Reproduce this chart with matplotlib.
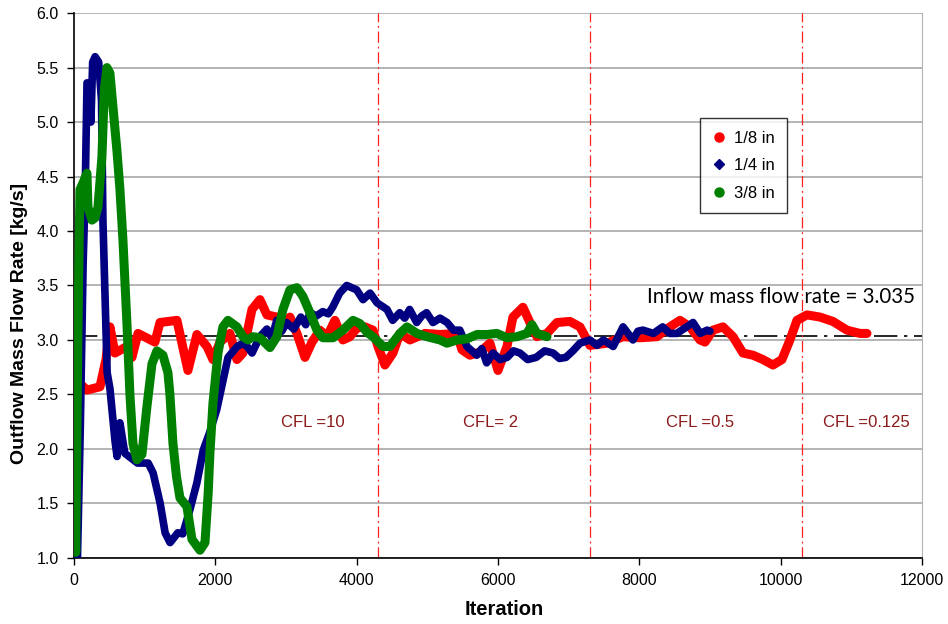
import matplotlib
matplotlib.use("Agg")
import matplotlib.pyplot as plt
from matplotlib.lines import Line2D

# Outflow mass flow rate histories for the three mesh sizes
it_18 = [0, 184, 368, 453, 509, 580, 750, 821, 906, 1146, 1217, 1457, 1613, 1740, 1882, 1967,
         2066, 2207, 2306, 2391, 2519, 2632, 2731, 2872, 2957, 3056, 3155, 3269, 3368, 3481,
         3580, 3693, 3806, 3905, 4004, 4118, 4231, 4302, 4400, 4514, 4613, 4754, 4967, 5179,
         5420, 5490, 5603, 5745, 5886, 6000, 6127, 6212, 6353, 6452, 6551, 6693, 6834, 7018,
         7160, 7301, 7542, 7768, 8009, 8249, 8433, 8575, 8716, 8858, 8929, 9042, 9183, 9325,
         9466, 9608, 9749, 9891, 10018, 10131, 10230, 10372, 10556, 10740, 10938, 11122, 11221]
m_18 = [2.65, 2.54, 2.57, 2.82, 3.12, 2.88, 2.94, 2.84, 3.06, 2.98, 3.16, 3.18, 2.72, 3.05, 2.94, 2.82,
        2.98, 3.06, 2.82, 2.88, 3.28, 3.37, 3.23, 3.21, 3.12, 3.21, 3.06, 2.84, 2.98, 3.09,
        3.03, 3.18, 3.00, 3.03, 3.11, 3.12, 3.09, 2.94, 2.77, 2.88, 3.06, 3.00, 3.06, 3.05,
        3.06, 2.91, 2.86, 2.89, 2.97, 2.72, 2.94, 3.21, 3.30, 3.16, 3.03, 3.06, 3.16, 3.17,
        3.12, 2.95, 2.97, 3.03, 3.02, 3.03, 3.12, 3.18, 3.12, 3.00, 2.98, 3.09, 3.12, 3.03,
        2.88, 2.86, 2.82, 2.77, 2.82, 3.00, 3.18, 3.23, 3.21, 3.17, 3.09, 3.06, 3.06]

it_14 = [50, 90, 130, 160, 185, 215, 240, 265, 300, 350, 390, 410, 470, 510, 580, 610, 650, 720,
         900, 1050, 1120, 1220, 1290, 1360, 1470, 1540, 1640, 1740, 1830, 1920, 2020, 2110,
         2180, 2310, 2390, 2450, 2520, 2630, 2730, 2800, 2870, 2940, 3010, 3110, 3210, 3280,
         3340, 3430, 3520, 3600, 3660, 3760, 3860, 4000, 4090, 4190, 4290, 4430, 4510, 4610,
         4680, 4750, 4850, 4920, 4990, 5080, 5180, 5280, 5370, 5460, 5560, 5700, 5770, 5840,
         5930, 6030, 6130, 6220, 6310, 6420, 6540, 6660, 6780, 6870, 6960, 7060, 7160, 7300,
         7400, 7490, 7630, 7770, 7910, 7980, 8050, 8200, 8330, 8430, 8530, 8670, 8760, 8860,
         8960, 9000]
m_14 = [1.00, 2.20, 3.70, 4.40, 5.36, 5.35, 5.00, 5.55, 5.60, 5.55, 5.20, 4.10, 2.70, 2.55,
        2.08, 1.93, 2.24, 1.96, 1.87, 1.87, 1.78, 1.50, 1.23, 1.14, 1.23, 1.22, 1.44, 1.69,
        1.99, 2.15, 2.36, 2.63, 2.84, 2.94, 2.97, 2.94, 2.88, 3.03, 3.10, 3.02, 3.18, 3.08,
        3.16, 3.10, 3.21, 3.14, 3.25, 3.22, 3.26, 3.24, 3.30, 3.43, 3.50, 3.46, 3.37, 3.43,
        3.34, 3.28, 3.18, 3.25, 3.20, 3.28, 3.16, 3.22, 3.25, 3.16, 3.20, 3.16, 3.09, 3.09,
        2.94, 2.86, 2.92, 2.79, 2.88, 2.82, 2.84, 2.90, 2.88, 2.82, 2.84, 2.90, 2.88, 2.83,
        2.84, 2.90, 2.97, 3.00, 2.95, 3.00, 2.94, 3.12, 3.00, 3.08, 3.09, 3.06, 3.12, 3.06,
        3.06, 3.12, 3.16, 3.06, 3.09, 3.08]

it_38 = [0, 25, 55, 85, 127, 184, 198, 255, 297, 340, 396, 430, 467, 509, 552, 608, 651, 693,
         750, 792, 835, 891, 962, 1033, 1104, 1174, 1259, 1330, 1358, 1401, 1450, 1500, 1599,
         1670, 1783, 1854, 1900, 1924, 1967, 2038, 2108, 2179, 2306, 2391, 2462, 2533, 2632,
         2773, 2872, 2957, 3056, 3155, 3240, 3339, 3438, 3523, 3665, 3806, 3948, 4047, 4146,
         4231, 4372, 4471, 4613, 4712, 4853, 4995, 5179, 5278, 5420, 5561, 5702, 5844, 5985,
         6127, 6268, 6410, 6481, 6551, 6693]
m_38 = [2.00, 1.05, 3.00, 4.38, 4.44, 4.53, 4.22, 4.10, 4.12, 4.22, 4.68, 5.30, 5.50, 5.45,
        5.14, 4.74, 4.38, 3.92, 3.15, 2.50, 2.05, 1.90, 1.95, 2.39, 2.78, 2.90, 2.86, 2.70,
        2.50, 2.05, 1.75, 1.55, 1.47, 1.17, 1.07, 1.14, 1.60, 1.96, 2.42, 2.88, 3.12, 3.18,
        3.12, 3.03, 3.00, 3.03, 3.02, 2.93, 3.03, 3.28, 3.46, 3.48, 3.40, 3.25, 3.09, 3.02,
        3.02, 3.09, 3.18, 3.15, 3.07, 3.03, 2.94, 2.94, 3.06, 3.12, 3.06, 3.03, 3.00, 2.97,
        3.00, 3.01, 3.05, 3.05, 3.06, 3.02, 3.03, 3.06, 3.14, 3.06, 3.03]

inflow = 3.035
cfl_changes = [4300, 7300, 10300]
cfl_labels = ["CFL =10", "CFL= 2", "CFL =0.5", "CFL =0.125"]
cfl_label_x = [3380, 5890, 8860, 11210]

plt.rcParams['font.family'] = ['Liberation Sans', 'DejaVu Sans']

fig = plt.figure(figsize=(9.48, 6.24), dpi=100)
ax = fig.add_axes([0.078, 0.106, 0.8946, 0.873])

ax.plot(it_18, m_18, color='#ff0000', lw=6.5, solid_capstyle='round', solid_joinstyle='round', zorder=3)
ax.plot(it_14, m_14, color='#000080', lw=5.5, solid_capstyle='round', solid_joinstyle='round', zorder=4)
ax.plot(it_38, m_38, color='#008000', lw=6.5, solid_capstyle='round', solid_joinstyle='round', zorder=5)

ax.axhline(inflow, color='black', lw=1.2, dashes=(14, 4, 2, 4), zorder=2)
for xc in cfl_changes:
    ax.axvline(xc, color='#ff2020', lw=0.9, dashes=(9, 3, 1.5, 3), zorder=2)

for x, s in zip(cfl_label_x, cfl_labels):
    ax.text(x, 2.24, s, color='#8b1a1a', fontsize=12, ha='center', va='center')
ax.text(11900, 3.39, "Inflow mass flow rate = 3.035", fontsize=14.8, ha='right', va='center',
        family=['Lato', 'DejaVu Sans'])

ax.set_xlim(0, 12000)
ax.set_ylim(1.0, 6.0)
ax.set_xticks(range(0, 12001, 2000))
ax.set_yticks([1.0 + 0.5 * i for i in range(11)])
ax.yaxis.set_major_formatter(matplotlib.ticker.FormatStrFormatter('%.1f'))
ax.tick_params(labelsize=11.5, length=5, width=1, direction='out')
ax.tick_params(axis='y', pad=6)
ax.tick_params(axis='x', pad=6)

ax.grid(axis='y', color='#b4b4b4', lw=1.4)
ax.set_axisbelow(True)
ax.spines['top'].set_visible(False)
ax.spines['right'].set_color('#b4b4b4')
ax.spines['left'].set_linewidth(1.2)
ax.spines['bottom'].set_linewidth(1.2)

ax.set_xlabel("Iteration", fontsize=14.5, fontweight='bold')
ax.xaxis.set_label_coords(0.507, -0.078)
ax.set_ylabel("Outflow Mass Flow Rate [kg/s]", fontsize=14, fontweight='bold')
ax.yaxis.set_label_coords(-0.054, 0.43)

handles = [Line2D([], [], ls='none', marker='o', ms=6.5, color='#ff0000'),
           Line2D([], [], ls='none', marker='D', ms=5, color='#000080'),
           Line2D([], [], ls='none', marker='o', ms=6.5, color='#008000')]
leg = ax.legend(handles, ["1/8 in", "1/4 in", "3/8 in"], loc='upper left',
                bbox_to_anchor=(0.738, 0.807), fontsize=12, frameon=True, fancybox=False,
                handlelength=0.8, handletextpad=0.5, borderpad=0.75, labelspacing=0.75,
                borderaxespad=0)
leg.get_frame().set_edgecolor('black')
leg.get_frame().set_linewidth(1.0)

fig.savefig("out.png", dpi=100)
